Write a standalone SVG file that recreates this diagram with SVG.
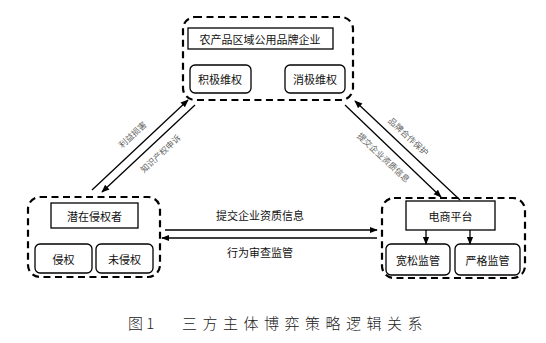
<svg xmlns="http://www.w3.org/2000/svg" width="546" height="343" viewBox="0 0 546 343">
<style>
.grp{fill:none;stroke:#000;stroke-width:2.2;stroke-dasharray:7 4.5}
.box{fill:#fff;stroke:#000;stroke-width:1.3}
.t{font-family:"Noto Sans CJK SC","Liberation Sans",sans-serif;font-size:11px;fill:#111;text-anchor:middle;dominant-baseline:central}
.d{font-family:"Noto Sans CJK SC","Liberation Sans",sans-serif;font-size:8.5px;fill:#666;text-anchor:middle;dominant-baseline:central}
.ln{stroke:#000;stroke-width:1.3;fill:none;marker-end:url(#ah)}
.cap{font-family:"Noto Sans CJK SC","Liberation Serif",serif;font-size:15px;font-weight:300;fill:#222;dominant-baseline:central}
</style>
<defs>
<marker id="ah" viewBox="0 0 10 10" refX="9" refY="5" markerWidth="8" markerHeight="8" orient="auto" markerUnits="userSpaceOnUse">
<path d="M0,1 L10,5 L0,9 Z" fill="#000"/>
</marker>
</defs>
<rect width="546" height="343" fill="#fff"/>
<g id="brand">
<rect class="grp" x="183" y="17" width="170" height="83" rx="12"/>
<rect class="box" x="188" y="28" width="145" height="21"/>
<text class="t" x="260" y="38.5">农产品区域公用品牌企业</text>
<rect class="box" x="190" y="65" width="61" height="28" rx="5"/>
<text class="t" x="220" y="79">积极维权</text>
<rect class="box" x="285" y="65" width="60" height="28" rx="5"/>
<text class="t" x="315" y="79">消极维权</text>
</g>
<g id="infringer">
<rect class="grp" x="28" y="197" width="132" height="80" rx="12"/>
<rect class="box" x="51" y="203" width="87" height="25"/>
<text class="t" x="94.5" y="215.5">潜在侵权者</text>
<rect class="box" x="35" y="244" width="57" height="29" rx="5"/>
<text class="t" x="63.5" y="258.5">侵权</text>
<rect class="box" x="96" y="244" width="57" height="29" rx="5"/>
<text class="t" x="124.5" y="258.5">未侵权</text>
</g>
<g id="platform">
<rect class="grp" x="382" y="198" width="143" height="80" rx="12"/>
<rect class="box" x="406" y="201" width="89" height="29"/>
<text class="t" x="450.5" y="215.5">电商平台</text>
<rect class="box" x="386" y="244" width="64" height="31" rx="5"/>
<text class="t" x="418" y="259.5">宽松监管</text>
<rect class="box" x="455" y="244" width="65" height="31" rx="5"/>
<text class="t" x="487.5" y="259.5">严格监管</text>
</g>
<g id="connectors">
<line class="ln" x1="426" y1="230" x2="426" y2="244"/>
<line class="ln" x1="470" y1="230" x2="470" y2="244"/>
<line class="ln" x1="165" y1="230" x2="377" y2="230"/>
<line class="ln" x1="377" y1="238" x2="162" y2="238"/>
<line class="ln" x1="92" y1="190" x2="188" y2="100"/>
<line class="ln" x1="195" y1="105" x2="102" y2="192"/>
<line class="ln" x1="460" y1="200" x2="355" y2="101"/>
<line class="ln" x1="345" y1="105" x2="441" y2="197"/>
</g>
<g id="labels">
<text class="t" x="260" y="215">提交企业资质信息</text>
<text class="t" x="260" y="252">行为审查监管</text>
<text class="d" transform="translate(132,134) rotate(-43)">利益损害</text>
<text class="d" transform="translate(160,153) rotate(-43)">知识产权申诉</text>
<text class="d" transform="translate(409,136) rotate(43)">品牌合作保护</text>
<text class="d" transform="translate(384,157) rotate(43)">提交企业资质信息</text>
</g>
<g id="caption">
<text class="cap" x="128" y="322">图 1</text>
<text class="cap" x="182" y="322" letter-spacing="5.5">三方主体博弈策略逻辑关系</text>
</g>
</svg>
